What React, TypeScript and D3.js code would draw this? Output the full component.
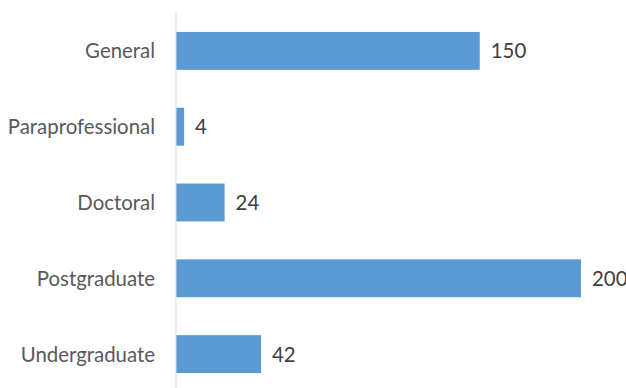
import React from "react";
import * as d3 from "d3";

const categories = ["General", "Paraprofessional", "Doctoral", "Postgraduate", "Undergraduate"];
const values = [150, 4, 24, 200, 42];

const W = 626;
const H = 388;

export default function App() {
  const x = d3.scaleLinear().domain([0, 200]).range([176, 581]);
  const y = d3.scaleBand<string>().domain(categories).range([13, 392]).paddingInner(0.5).paddingOuter(0.25);
  const font = "Lato, 'Liberation Sans', sans-serif";
  return (
    <svg width={W} height={H} style={{ position: "absolute", left: 0, top: 0, background: "#fff" }}>
      <rect width={W} height={H} fill="#fff" />
      {categories.map((c, i) => (
        <g key={c}>
          <rect x={x(0)} y={y(c)!} width={x(values[i]) - x(0)} height={y.bandwidth()} fill="#5B9BD5" />
          <text x={155} y={y(c)! + y.bandwidth() / 2} dy="0.37em" textAnchor="end" fontFamily={font} fontSize={20.4} fill="#595959">{c}</text>
          <text x={x(values[i]) + 11} y={y(c)! + y.bandwidth() / 2} dy="0.37em" textAnchor="start" fontFamily={font} fontSize={20.4} fill="#404040">{values[i]}</text>
        </g>
      ))}
      <line x1={x(0)} x2={x(0)} y1={13} y2={392} stroke="#d9d9d9" strokeWidth={1} />
    </svg>
  );
}
